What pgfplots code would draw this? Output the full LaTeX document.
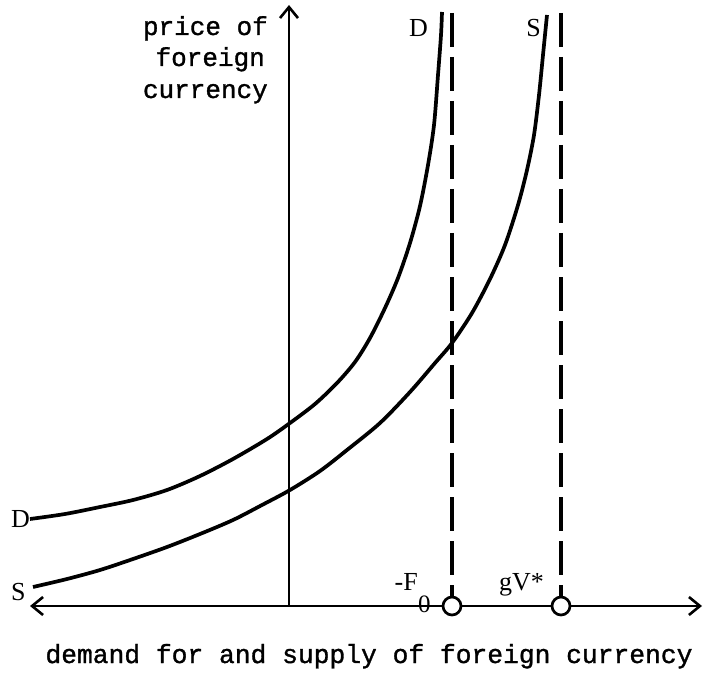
\documentclass[border=0pt]{standalone}
\usepackage{pgfplots}
\pgfplotsset{compat=1.18}
\usetikzlibrary{arrows.meta}
\usepackage{fontspec}
\setmainfont{Liberation Serif}
\newfontfamily\tw[FakeBold=1.2]{Liberation Mono}

\begin{document}
\begin{tikzpicture}[>={Straight Barb[length=11pt,width=18pt,line width=2.6pt]}]
\begin{axis}[
  width=714pt, height=676pt, scale only axis,
  xmin=0, xmax=714, ymin=0, ymax=676, y dir=reverse,
  hide axis, clip=false,
]
\addplot[draw=none] coordinates {(0,0) (714,676)};

% axes
\addplot[line width=2.6pt, ->] coordinates {(289,606) (289,5)};
\addplot[line width=2.6pt, <->] coordinates {(30,606) (702,606)};

% vertical dashed lines
\addplot[line width=3.2pt, dash pattern=on 34pt off 10pt] coordinates {(452,13) (452,600)};
\addplot[line width=3.2pt, dash pattern=on 34pt off 10pt] coordinates {(561,13) (561,600)};

% D curve
\addplot[line width=3.7pt, smooth] coordinates {
  (30,519) (65,514) (100,507) (133,500) (167,490) (200,476) (233,459)
  (267,439) (290,423) (315,404) (337,383) (355,362) (370,338) (385,308)
  (398,278) (410,243) (420,206) (428,165) (434,125) (438,75) (441,35) (442,12)
};
% S curve
\addplot[line width=3.7pt, smooth] coordinates {
  (33,587) (67,579) (100,570) (133,559) (167,547) (200,534) (233,520)
  (262,505) (290,490) (320,471) (347,450) (380,423) (410,392) (435,363)
  (452,343) (472,313) (490,279) (505,245) (518,205) (527,170) (534,135)
  (539,95) (543,55) (547,15)
};

% circles on the horizontal axis
\addplot[only marks, mark=*, mark size=9pt,
  mark options={fill=white, draw=black, line width=2.7pt}]
  coordinates {(452,606) (561,606)};

% labels
\node[anchor=base east, inner sep=0pt, font=\tw\fontsize{26}{26}\selectfont] at (268,35) {price of};
\node[anchor=base east, inner sep=0pt, font=\tw\fontsize{26}{26}\selectfont] at (265,66) {foreign};
\node[anchor=base east, inner sep=0pt, font=\tw\fontsize{26}{26}\selectfont] at (268,98) {currency};
\node[anchor=base, inner sep=0pt, font=\tw\fontsize{26.3}{26.3}\selectfont] at (369,663)
  {demand for and supply of foreign currency};

\node[anchor=base east, inner sep=0pt, font=\fontsize{26}{26}\selectfont] at (428,37) {D};
\node[anchor=base east, inner sep=0pt, font=\fontsize{26}{26}\selectfont] at (541,37) {S};
\node[anchor=base west, inner sep=0pt, font=\fontsize{26}{26}\selectfont] at (11,527) {D};
\node[anchor=base west, inner sep=0pt, font=\fontsize{26}{26}\selectfont] at (11,600) {S};
\node[anchor=base east, inner sep=0pt, font=\fontsize{26}{26}\selectfont] at (418,590) {-F};
\node[anchor=base west, inner sep=0pt, font=\fontsize{25}{25}\selectfont] at (418,612) {0};
\node[anchor=base west, inner sep=0pt, font=\fontsize{26}{26}\selectfont] at (499,590) {gV*};
\end{axis}
\end{tikzpicture}
\end{document}
